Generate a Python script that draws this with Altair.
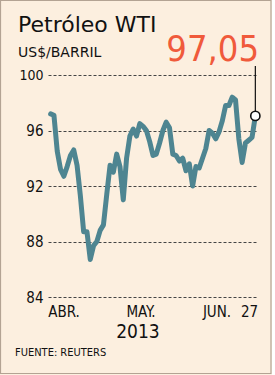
import altair as alt
import pandas as pd

# WTI daily close, US$/barrel, trading days 1 Apr - 27 Jun 2013
prices = [97.2, 97.1, 94.5, 93.2, 92.7, 93.4, 94.2, 94.6, 93.5, 91.3,
          88.7, 88.7, 86.7, 87.7, 88.0, 88.8, 89.2, 91.4, 93.5, 93.0,
          94.3, 93.4, 91.0, 94.0, 95.6, 96.1, 95.6, 96.5, 96.3, 96.0,
          95.2, 94.2, 94.3, 95.1, 96.0, 96.6, 96.2, 94.3, 94.2, 93.8,
          94.0, 93.1, 93.6, 92.0, 93.4, 93.3, 94.0, 94.7, 96.0, 95.8,
          95.4, 95.9, 96.7, 97.8, 97.8, 98.4, 98.2, 95.4, 93.7, 95.1,
          95.3, 95.5, 97.05]
y_ticks = [84, 88, 92, 96, 100]
month_labels = ["ABR.", "MAY.", "JUN.", "27"]
month_label_x = [16, 93, 169, 201.5]   # pixel centres within plot
year_label = "2013"
last_label = "97,05"
title_text = "Petróleo WTI"
unit_text = "US$/BARRIL"
source_text = "FUENTE: REUTERS"

df = pd.DataFrame({"i": list(range(len(prices))), "p": prices})
last = df.tail(1)

COND = "DejaVu Sans Condensed, DejaVu Sans, sans-serif"
LINE = "#4E8591"
RED = "#F05A3B"
CREAM = "#FCEFDF"

xs = alt.Scale(domain=[-0.8, 62.2], nice=False, zero=False)
ys = alt.Scale(domain=[84, 100], nice=False, zero=False)

one = pd.DataFrame({"a": [0]})
border = alt.Chart(one).mark_rect(
    fill=None, filled=False, stroke="#B3A393", strokeWidth=1.2
).encode(x=alt.value(-47.5), x2=alt.value(223), y=alt.value(-74.5), y2=alt.value(298.5))
strip = alt.Chart(one).mark_rect(fill="white", stroke=None).encode(
    x=alt.value(223.8), x2=alt.value(228), y=alt.value(-76), y2=alt.value(301))

axis_layer = alt.Chart(df).mark_line(opacity=0).encode(
    x=alt.X("i:Q", scale=xs, axis=None),
    y=alt.Y("p:Q", scale=ys, axis=alt.Axis(
        values=y_ticks, title=None, domain=False, ticks=False,
        grid=True, gridDash=[3, 2], gridColor="#444444", gridWidth=1, gridOpacity=1,
        labelFont=COND,
        labelFontSize={"condition": {"test": "datum.value == 100", "value": 14}, "value": 15},
        labelColor="#111111", labelPadding=5)),
)

line = alt.Chart(df).mark_line(color=LINE, strokeWidth=5, strokeJoin="round", strokeCap="round").encode(
    x=alt.X("i:Q", scale=xs), y=alt.Y("p:Q", scale=ys)
)

rule = alt.Chart(last).mark_rule(color="#111111", strokeWidth=1.2).encode(
    x=alt.X("i:Q", scale=xs), y=alt.Y("p:Q", scale=ys), y2=alt.value(-9)
)

pt = alt.Chart(last).mark_point(filled=True, fill="white", stroke="#111111", strokeWidth=1.6, size=85, opacity=1).encode(
    x=alt.X("i:Q", scale=xs), y=alt.Y("p:Q", scale=ys)
)

def txt(text, x, y, size, font=COND, color="#111111", align="left"):
    return alt.Chart(pd.DataFrame({"t": [text]})).mark_text(
        font=font, fontSize=size, color=color, align=align, baseline="alphabetic"
    ).encode(text="t:N", x=alt.value(x), y=alt.value(y))

texts = [
    txt(title_text, -30, -43, 22, font="DejaVu Sans, sans-serif"),
    txt(unit_text, -30, -18, 14, font="DejaVu Sans, sans-serif"),
    txt(last_label, 211, -14, 36, font="Liberation Sans Narrow, DejaVu Sans Condensed, sans-serif", color=RED, align="right"),
    txt(year_label, 90, 263, 19, align="center"),
    txt(source_text, -33, 281, 11),
]
for lab, px in zip(month_labels, month_label_x):
    texts.append(txt(lab, px, 241.5, 15, align="center"))

chart = alt.layer(axis_layer, line, rule, pt, strip, border, *texts).properties(
    width=208, height=222,
    padding={"left": 48, "top": 75, "right": 19, "bottom": 78},
    autosize=alt.AutoSizeParams(type="none"),
    background=CREAM,
).configure_view(stroke=None)

chart.save("out.html", embed_options={"renderer": "svg", "actions": False})
